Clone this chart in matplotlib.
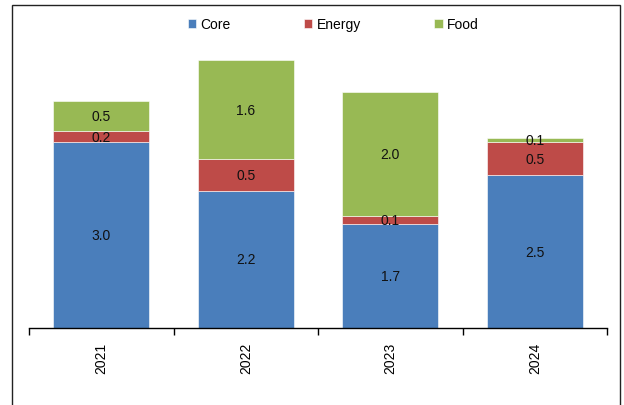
import matplotlib
matplotlib.use('Agg')
import matplotlib.pyplot as plt
from matplotlib.patches import Rectangle

plt.rcParams['font.family'] = ['Liberation Sans', 'DejaVu Sans']

# data
years = ['2021', '2022', '2023', '2024']
core = [3.0, 2.21, 1.67, 2.46]
energy = [0.17, 0.51, 0.13, 0.54]
food = [0.49, 1.6, 2.0, 0.07]

colors = {'Core': '#4A7EBB', 'Energy': '#BE4B48', 'Food': '#98B954'}

fig = plt.figure(figsize=(6.24, 4.06), dpi=100)
# outer chart border like the excel frame
fig.patches.append(Rectangle((11.5/624, -0.1), 608.5/624, 1.1 - 6/406, transform=fig.transFigure,
                             fill=False, edgecolor='#222222', linewidth=1.0))
ax = fig.add_axes([29/624, 77/406, 578/624, 310/406])

x = range(len(years))
bottom = [0]*len(years)
for name, vals in [('Core', core), ('Energy', energy), ('Food', food)]:
    ax.bar(x, vals, width=0.665, bottom=bottom, color=colors[name],
           edgecolor='white', linewidth=0.4, label=name)
    for i, v in enumerate(vals):
        ax.text(i, bottom[i] + v/2, '%.1f' % v, ha='center', va='center', fontsize=10, color='#111111')
    bottom = [b + v for b, v in zip(bottom, vals)]

ax.set_xlim(-0.5, 3.5)
ax.set_ylim(0, 5)
ax.set_yticks([])
for s in ['left', 'right', 'top']:
    ax.spines[s].set_visible(False)
ax.spines['bottom'].set_linewidth(1.0)
ax.set_xticks([-0.5, 0.5, 1.5, 2.5, 3.5], minor=False)
ax.set_xticklabels([])
ax.tick_params(axis='x', direction='out', length=5, width=1.0)
ax.set_xticks(list(x), minor=True)
ax.set_xticklabels(years, minor=True, rotation=90, fontsize=10)
ax.tick_params(axis='x', which='minor', length=0, pad=10)

ax.legend(loc='upper center', bbox_to_anchor=(0.526, 1.043), ncol=3, frameon=False, fontsize=10,
          handlelength=0.6, handleheight=0.6, handletextpad=0.3, columnspacing=5.3)

plt.savefig('out.png', dpi=100)
